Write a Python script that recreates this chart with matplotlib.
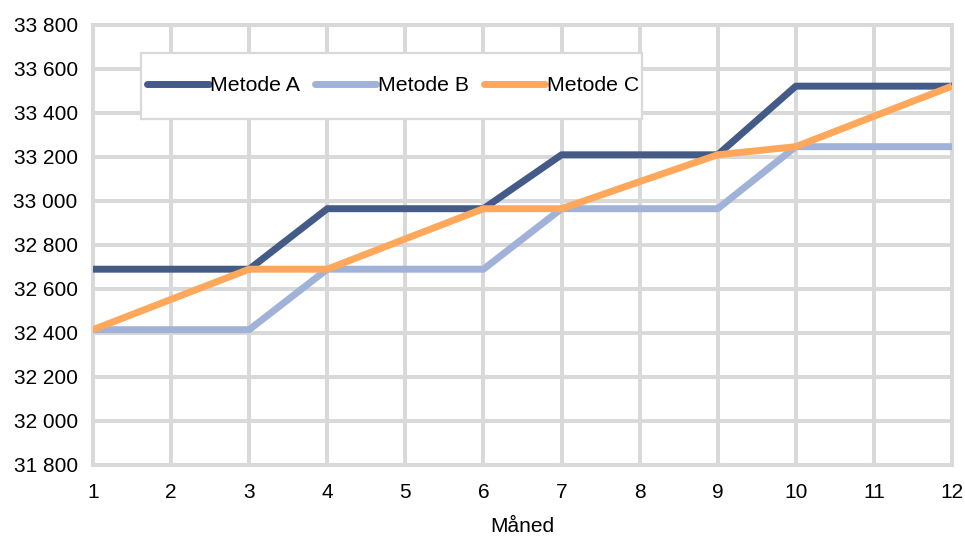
import matplotlib
matplotlib.use("Agg")
import matplotlib.pyplot as plt
from matplotlib.patches import Rectangle
from matplotlib.ticker import FuncFormatter

months = [1, 2, 3, 4, 5, 6, 7, 8, 9, 10, 11, 12]
metode_a = [32690, 32690, 32690, 32965, 32965, 32965, 33210, 33210, 33210, 33522, 33522, 33522]
metode_b = [32415, 32415, 32415, 32690, 32690, 32690, 32965, 32965, 32965, 33247, 33247, 33247]
metode_c = [32415, 32553, 32690, 32690, 32828, 32965, 32965, 33088, 33210, 33247, 33385, 33522]
labels = ["Metode A", "Metode B", "Metode C"]
colors = ["#445B88", "#A0B2D7", "#FFA85C"]

plt.rcParams['font.family'] = ['Liberation Sans', 'DejaVu Sans']

W, H = 965, 536
fig = plt.figure(figsize=(W / 100, H / 100), dpi=100)
ax = fig.add_axes([93 / W, 1 - 465 / H, (952 - 93) / W, (465 - 25) / H])

for series, lab, col in zip([metode_a, metode_b, metode_c], labels, colors):
    ax.plot(months, series, color=col, lw=5, label=lab, solid_capstyle='butt', zorder=3)

ax.set_xlim(1, 12)
ax.set_ylim(31800, 33800)
ax.set_xticks(months)
ax.set_yticks(range(31800, 33801, 200))
ax.yaxis.set_major_formatter(FuncFormatter(lambda v, p: '{:,}'.format(int(v)).replace(',', ' ')))
ax.grid(True, color='#D9D9D9', lw=2.9, zorder=0)
for s in ax.spines.values():
    s.set_color('#D9D9D9')
    s.set_linewidth(2.9)
ax.tick_params(length=0, labelsize=15, colors='#000000')
ax.tick_params(axis='y', pad=11)
ax.tick_params(axis='x', pad=13)
ax.set_xlabel('Måned', fontsize=15, labelpad=11)

# legend frame (pixels 141..642 x 53..119)
pw, ph = 952 - 93, 465 - 25
ax.add_patch(Rectangle(((141 - 93) / pw, 1 - (119 - 25) / ph), 501 / pw, 66 / ph,
                       transform=ax.transAxes, facecolor='white', edgecolor='#D9D9D9',
                       lw=1.6, zorder=4, clip_on=False))
leg = ax.legend(loc='center left', bbox_to_anchor=((147 - 93) / pw, 1 - (86 - 25) / ph), ncol=3,
                frameon=False, fontsize=15.3, handlelength=2.9,
                handletextpad=0.05, columnspacing=0.72, borderpad=0, borderaxespad=0)
leg.set_zorder(5)
for h in leg.get_lines():
    h.set_solid_capstyle('round')
    h.set_linewidth(5)

fig.savefig('out.png', dpi=100)
